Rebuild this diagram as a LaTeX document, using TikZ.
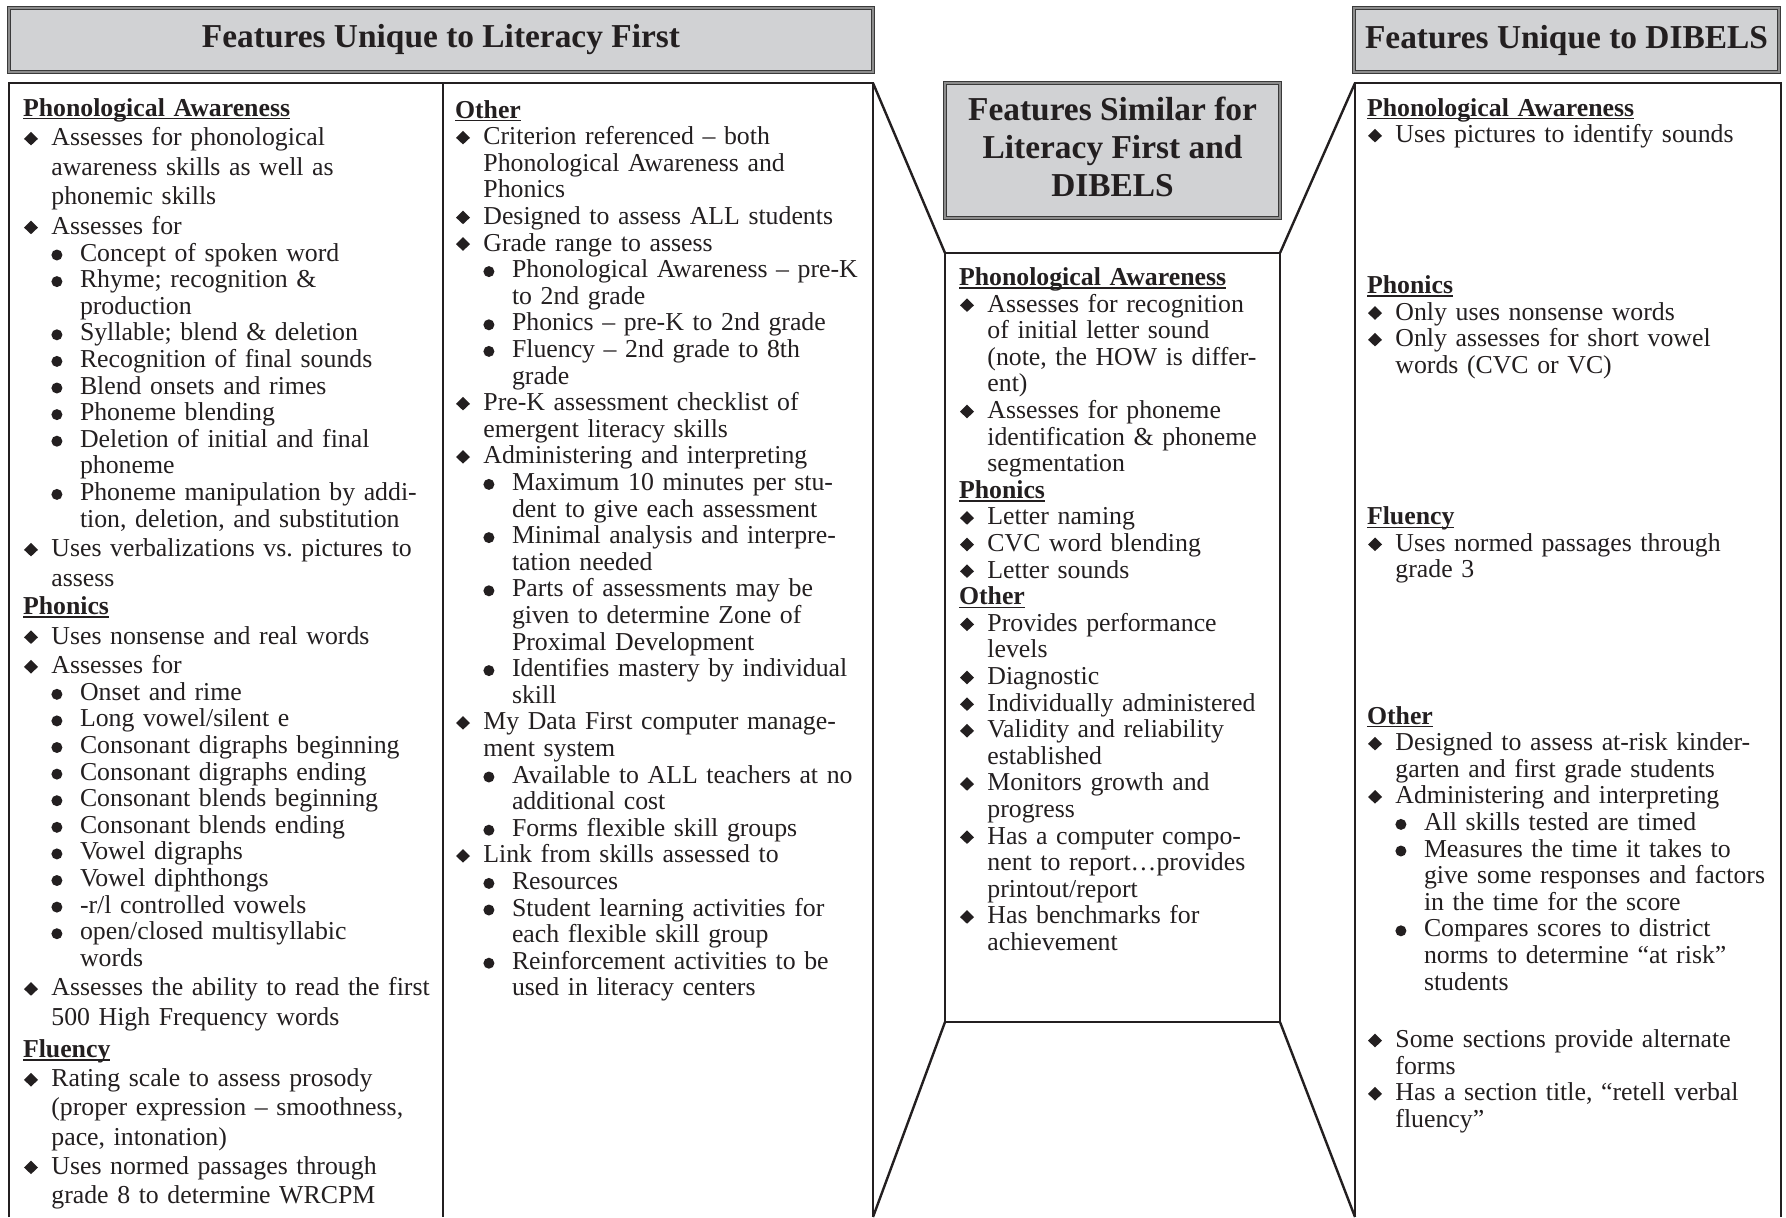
\documentclass[tikz,border=0pt]{standalone}
\usepackage{fontspec}
\setmainfont{Liberation Serif}
\definecolor{hdrfill}{HTML}{D1D2D4}
\definecolor{hdrdraw}{HTML}{3A3A3A}
\definecolor{hdrinner}{HTML}{8C8C8C}
\definecolor{ink}{HTML}{231F20}
\newlength\dsk \newlength\ssk \newlength\hsk
\setlength\dsk{13.3pt}\setlength\ssk{13.3pt}\setlength\hsk{13.3pt}
\newsavebox\ulbox
\newcommand\nl{\hfil\break}
\newcommand\ulh[1]{\sbox\ulbox{\bfseries #1}\rlap{\rule[-1.7pt]{\wd\ulbox}{0.75pt}}\usebox\ulbox}
\newcommand\dia{\tikz[baseline=0pt,x=1pt,y=1pt]\fill[ink] (0,3.4)--(3.5,6.9)--(7.0,3.4)--(3.5,0.1)--cycle;}
\newcommand\bul{\tikz[baseline=0pt,x=1pt,y=1pt]\fill[ink] (2.75,3.0) circle (2.75);}
\newcommand\sechd[1]{{\baselineskip=\hsk\noindent\ulh{#1}\par}}
\newcommand\dmi[1]{{\baselineskip=\dsk\noindent\hangindent=14.2pt\hangafter=1\makebox[14.2pt][l]{\hspace{0.5pt}\dia}#1\par}}
\newcommand\sbi[1]{{\baselineskip=\ssk\noindent\hangindent=28.5pt\hangafter=1\hspace*{14.2pt}\makebox[14.3pt][l]{\bul}#1\par}}
\tikzset{
  hdr/.style={draw=hdrdraw, double=hdrinner, line width=0.5pt, double distance=0.55pt, fill=hdrfill,
    inner sep=0pt, outer sep=0pt, align=center, text=ink, font=\fontsize{16.7}{19}\selectfont\bfseries},
  boxline/.style={draw=ink, line width=1.2pt, line join=miter},
  col/.style={anchor=base west, inner sep=0pt, outer sep=0pt, text width=250pt, align=left,
    text=ink, font=\fontsize{12.9}{13.3}\selectfont}
}
\begin{document}
\begin{tikzpicture}[x=0.5pt,y=-0.5pt]
\useasboundingbox (0,0) rectangle (1786,1217);
% headers
\node[hdr, minimum width=432pt, minimum height=32pt] (hdrL) at (441,40) {Features Unique to Literacy First};
\node[hdr, minimum width=212.5pt, minimum height=32pt] (hdrR) at (1566.5,40) {Features Unique to DIBELS};
\node[hdr, minimum width=167.5pt, minimum height=67.5pt] (hdrC) at (1112.5,150.5) {};
\node[align=center, text=ink, font=\fontsize{16.7}{19}\selectfont\bfseries, inner sep=0pt] (hdrCt) at (1112.5,147) {Features Similar for\\Literacy First and\\DIBELS};
% boxes
\coordinate (LTL) at (9,83);
\coordinate (LBL) at (9,1217);
\coordinate (LTR) at (873,83);
\coordinate (LBR) at (873,1217);
\coordinate (DivT) at (443,83);
\coordinate (DivB) at (443,1217);
\coordinate (RTL) at (1355,83);
\coordinate (RBL) at (1355,1217);
\coordinate (RTR) at (1781,83);
\coordinate (RBR) at (1781,1217);
\node[boxline, minimum width=167.5pt, minimum height=384.5pt, inner sep=0pt, outer sep=0pt] (boxC) at (1112.5,637.5) {};
\draw[boxline] (LBL) -- (LTL) -- (LTR) -- (LBR);
\draw[boxline] (DivT) -- (DivB);
\draw[boxline] (RBL) -- (RTL) -- (RTR) -- (RBR);
\draw[boxline] (LTR) -- (boxC.north west);
\draw[boxline] (boxC.north east) -- (RTL);
\draw[boxline] (boxC.south west) -- (LBR);
\draw[boxline] (boxC.south east) -- (RBL);
% column 1
\node[col] (c1a) at (23,116) {\setlength\dsk{14.8pt}\setlength\parskip{0pt}%
\sechd{Phonological Awareness}
\dmi{Assesses for phonological\nl awareness skills as well as\nl phonemic skills}
\dmi{Assesses for}
\sbi{Concept of spoken word}
\sbi{Rhyme; recognition \&\nl production}
\sbi{Syllable; blend \& deletion}
\sbi{Recognition of final sounds}
\sbi{Blend onsets and rimes}
\sbi{Phoneme blending}
\sbi{Deletion of initial and final\nl phoneme}
\sbi{Phoneme manipulation by addi-\nl tion, deletion, and substitution}
\dmi{Uses verbalizations vs.\ pictures to\nl assess}};
\node[col] (c1b) at (23,614.5) {\setlength\dsk{14.8pt}\setlength\parskip{0pt}%
\sechd{Phonics}
\dmi{Uses nonsense and real words}
\dmi{Assesses for}
\sbi{Onset and rime}
\sbi{Long vowel/silent e}
\sbi{Consonant digraphs beginning}
\sbi{Consonant digraphs ending}
\sbi{Consonant blends beginning}
\sbi{Consonant blends ending}
\sbi{Vowel digraphs}
\sbi{Vowel diphthongs}
\sbi{-r/l controlled vowels}
\sbi{open/closed multisyllabic\nl words}
\dmi{Assesses the ability to read the first\nl 500 High Frequency words}};
\node[col] (c1c) at (23,1057.5) {\setlength\dsk{14.6pt}\setlength\parskip{0pt}%
\sechd{Fluency}
\dmi{Rating scale to assess prosody\nl (proper expression – smoothness,\nl pace, intonation)}
\dmi{Uses normed passages through\nl grade 8 to determine WRCPM}};
% column 2
\node[col] (c2) at (455,118) {\setlength\parskip{0pt}%
\sechd{Other}
\dmi{Criterion referenced – both\nl Phonological Awareness and\nl Phonics}
\dmi{Designed to assess ALL students}
\dmi{Grade range to assess}
\sbi{Phonological Awareness – pre-K\nl to 2nd grade}
\sbi{Phonics – pre-K to 2nd grade}
\sbi{Fluency – 2nd grade to 8th\nl grade}
\dmi{Pre-K assessment checklist of\nl emergent literacy skills}
\dmi{Administering and interpreting}
\sbi{Maximum 10 minutes per stu-\nl dent to give each assessment}
\sbi{Minimal analysis and interpre-\nl tation needed}
\sbi{Parts of assessments may be\nl given to determine Zone of\nl Proximal Development}
\sbi{Identifies mastery by individual\nl skill}
\dmi{My Data First computer manage-\nl ment system}
\sbi{Available to ALL teachers at no\nl additional cost}
\sbi{Forms flexible skill groups}
\dmi{Link from skills assessed to}
\sbi{Resources}
\sbi{Student learning activities for\nl each flexible skill group}
\sbi{Reinforcement activities to be\nl used in literacy centers}};
% center column
\node[col] (c3) at (959,285.5) {\setlength\parskip{0pt}%
\sechd{Phonological Awareness}
\dmi{Assesses for recognition\nl of initial letter sound\nl (note, the HOW is differ-\nl ent)}
\dmi{Assesses for phoneme\nl identification \& phoneme\nl segmentation}
\sechd{Phonics}
\dmi{Letter naming}
\dmi{CVC word blending}
\dmi{Letter sounds}
\sechd{Other}
\dmi{Provides performance\nl levels}
\dmi{Diagnostic}
\dmi{Individually administered}
\dmi{Validity and reliability\nl established}
\dmi{Monitors growth and\nl progress}
\dmi{Has a computer compo-\nl nent to report…provides\nl printout/report}
\dmi{Has benchmarks for\nl achievement}};
% right column
\node[col] (c4a) at (1367,116) {\setlength\parskip{0pt}%
\sechd{Phonological Awareness}
\dmi{Uses pictures to identify sounds}};
\node[col] (c4b) at (1367,293.4) {\setlength\parskip{0pt}%
\sechd{Phonics}
\dmi{Only uses nonsense words}
\dmi{Only assesses for short vowel\nl words (CVC or VC)}};
\node[col] (c4c) at (1367,524.7) {\setlength\parskip{0pt}%
\sechd{Fluency}
\dmi{Uses normed passages through\nl grade 3}};
\node[col] (c4d) at (1367,724) {\setlength\parskip{0pt}%
\sechd{Other}
\dmi{Designed to assess at-risk kinder-\nl garten and first grade students}
\dmi{Administering and interpreting}
\sbi{All skills tested are timed}
\sbi{Measures the time it takes to\nl give some responses and factors\nl in the time for the score}
\sbi{Compares scores to district\nl norms to determine “at risk”\nl students}};
\node[col] (c4e) at (1367,1047.5) {\setlength\parskip{0pt}%
\dmi{Some sections provide alternate\nl forms}
\dmi{Has a section title, “retell verbal\nl fluency”}};
\end{tikzpicture}
\end{document}
